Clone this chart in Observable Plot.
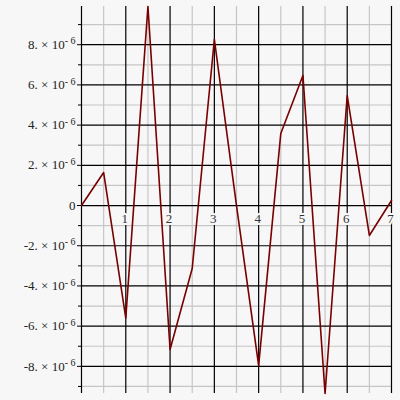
<!DOCTYPE html>
<html>
<head>
<meta charset="utf-8">
<script src="https://cdn.jsdelivr.net/npm/d3@7"></script>
<script src="https://cdn.jsdelivr.net/npm/@observablehq/plot@0.6"></script>
<style>
  html, body { margin: 0; padding: 0; background: #f7f7f7; }
  #chart { width: 400px; height: 400px; }
</style>
</head>
<body>
<div id="chart"></div>
<script>
// Data (y in units of 1e-6)
const xValues = [0, 0.5, 1, 1.5, 2, 2.5, 3, 3.5, 4, 4.5, 5, 5.5, 6, 6.5, 7];
const yValues = [0, 1.64, -5.6, 9.9, -7.16, -3.13, 8.26, 0, -7.96, 3.58, 6.47, -9.35, 5.47, -1.49, 0.25];
const scaleExp = -6;

const majorX = [0, 1, 2, 3, 4, 5, 6, 7];
const minorX = [0.5, 1.5, 2.5, 3.5, 4.5, 5.5, 6.5];
const xTickLabels = [1, 2, 3, 4, 5, 6, 7];
const majorY = [-8, -6, -4, -2, 0, 2, 4, 6, 8];
const minorY = [-9, -7, -5, -3, -1, 1, 3, 5, 7, 9];
const yTickMantissa = ["-8.", "-6.", "-4.", "-2.", "0", "2.", "4.", "6.", "8."];

const unit = Math.pow(10, scaleExp);
const data = xValues.map((x, i) => ({x, y: yValues[i] * unit}));
const majY = majorY.map(v => v * unit);
const minY = minorY.map(v => v * unit);

const serif = "'Liberation Serif', 'Times New Roman', serif";

const chart = Plot.plot({
  width: 400,
  height: 400,
  marginLeft: 81,
  marginRight: 9,
  marginTop: 6,
  marginBottom: 7,
  style: {background: "#f7f7f7", fontFamily: serif},
  x: {domain: [0, 7], axis: null, label: null},
  y: {domain: d3.extent(data, d => d.y), label: null},
  marks: [
    Plot.ruleX(minorX, {stroke: "#c6c6c6", strokeWidth: 1.2}),
    Plot.ruleY(minY, {stroke: "#c6c6c6", strokeWidth: 1.2}),
    Plot.ruleX(majorX, {stroke: "#000", strokeWidth: 1.2}),
    Plot.ruleY(majY, {stroke: "#000", strokeWidth: 1.2}),
    Plot.axisY(minY, {tickSize: 3, tickFormat: () => "", stroke: "#000", label: null}),
    Plot.axisY(majY, {
      tickSize: 4,
      tickPadding: 2,
      label: null,
      stroke: "#000",
      fill: "#222",
      fontSize: 13,
      fontFamily: serif,
      tickFormat: (d) => {
        const i = majY.indexOf(d);
        const m = yTickMantissa[i];
        return m === "0" ? "0" : m + "|" + scaleExp;
      }
    }),
    Plot.line(data, {x: "x", y: "y", stroke: "#780000", strokeWidth: 1.6}),
    Plot.text(xTickLabels, {
      x: d => d, y: 0, dy: 13, dx: -1,
      text: d => String(d),
      fontSize: 13, fontFamily: serif, fill: "#333",
      stroke: "#f7f7f7", strokeWidth: 4
    })
  ]
});

// Render scientific labels with superscript exponent
d3.select(chart).selectAll("text").each(function() {
  const t = d3.select(this);
  const tspanSel = t.selectAll("tspan");
  const nodes = tspanSel.empty() ? [this] : tspanSel.nodes();
  nodes.forEach(n => {
    const s = n.textContent;
    if (s.includes("|")) {
      const [m, e] = s.split("|");
      const el = d3.select(n);
      el.text(null);
      el.append("tspan").text(m + " \u00d7 10");
      el.append("tspan").attr("font-size", 10).attr("dy", "-0.45em").text(e.replace("-", "- "));
    }
  });
});

document.getElementById("chart").appendChild(chart);
</script>
</body>
</html>
